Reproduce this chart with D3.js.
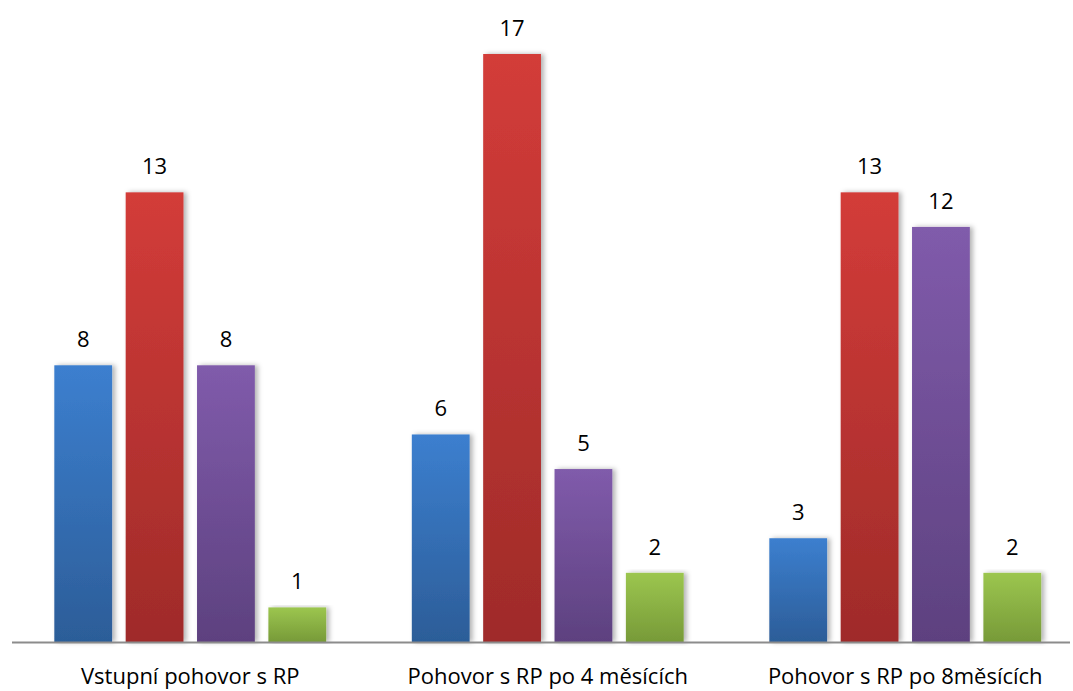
<!DOCTYPE html>
<html>
<head>
<meta charset="utf-8">
<script src="https://cdn.jsdelivr.net/npm/d3@7"></script>
<style>
  body { margin: 0; background: #fff; }
  svg text { font-family: "Open Sans", "DejaVu Sans", sans-serif; fill: #000; }
</style>
</head>
<body>
<div class="chart"></div>
<script>
var categories = ["Vstupní pohovor s RP", "Pohovor s RP po 4 měsících", "Pohovor s RP po 8měsících"];
var seriesNames = ["s1", "s2", "s3", "s4"];
var seriesA = [8, 6, 3];
var seriesB = [13, 17, 13];
var seriesC = [8, 5, 12];
var seriesD = [1, 2, 2];
var colours = [["#3c7fcf", "#2c5d98"], ["#d33c39", "#9f2b29"], ["#805bab", "#5d417f"], ["#9cc64f", "#779a38"]];

var w = 1073, h = 691;
var baseY = 642;

var svg = d3.select("div.chart").append("svg")
    .attr("width", w)
    .attr("height", h);

var defs = svg.append("defs");
colours.forEach(function(c, i){
  var g = defs.append("linearGradient")
      .attr("id", "grad" + i)
      .attr("x1", 0).attr("y1", 0).attr("x2", 0).attr("y2", 1);
  g.append("stop").attr("offset", "0%").attr("stop-color", c[0]);
  g.append("stop").attr("offset", "100%").attr("stop-color", c[1]);
});
var shadow = defs.append("filter").attr("id", "shadow")
    .attr("x", "-20%").attr("y", "-5%").attr("width", "150%").attr("height", "110%");
shadow.append("feDropShadow")
    .attr("dx", 3).attr("dy", 0).attr("stdDeviation", 2.5)
    .attr("flood-color", "#000").attr("flood-opacity", 0.3);

var x0 = d3.scaleBand().domain(categories).range([11.5, 1084]);
var x1 = d3.scaleBand().domain(seriesNames).range([0, x0.bandwidth()])
    .paddingInner(0.19).paddingOuter(0.6);
var y = d3.scaleLinear().domain([0, 17]).range([baseY, 54]);

var rows = [];
categories.forEach(function(cat, ci){
  [seriesA, seriesB, seriesC, seriesD].forEach(function(s, si){
    rows.push({cat: cat, series: seriesNames[si], si: si, value: s[ci]});
  });
});

//bars
svg.append("g").selectAll("rect")
    .data(rows)
    .enter()
    .append("rect")
      .attr("x", d => x0(d.cat) + x1(d.series))
      .attr("y", d => y(d.value))
      .attr("width", x1.bandwidth())
      .attr("height", d => baseY - y(d.value))
      .attr("fill", d => "url(#grad" + d.si + ")")
      .attr("filter", "url(#shadow)");

//value labels
svg.append("g").selectAll("text")
    .data(rows)
    .enter()
    .append("text")
      .attr("x", d => x0(d.cat) + x1(d.series) + x1.bandwidth()/2)
      .attr("y", d => y(d.value) - 18)
      .attr("text-anchor", "middle")
      .style("font-size", "22px")
      .text(d => d.value);

//axis
svg.append("line")
    .attr("x1", 12).attr("x2", 1070)
    .attr("y1", baseY + 0.5).attr("y2", baseY + 0.5)
    .attr("stroke", "#8c8c8c")
    .attr("stroke-width", 2);

svg.append("g").selectAll("text")
    .data(categories)
    .enter()
    .append("text")
      .attr("x", d => x0(d) + x0.bandwidth()/2)
      .attr("y", 684)
      .attr("text-anchor", "middle")
      .style("font-size", "22px")
      .text(d => d);
</script>
</body>
</html>
